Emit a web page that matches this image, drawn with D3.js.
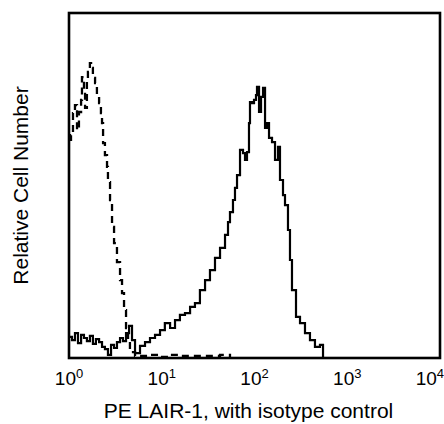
<!DOCTYPE html>
<html>
<head>
<meta charset="utf-8">
<script src="https://cdn.jsdelivr.net/npm/d3@7"></script>
<style>
  html, body { margin: 0; padding: 0; background: #fff; }
  svg { display: block; }
  text { font-family: "Liberation Sans", Arial, Helvetica, sans-serif; fill: #000; }
</style>
</head>
<body>
<svg id="chart" width="444" height="424"></svg>
<script>
// Fluorescence intensity (PE) and relative cell count, LAIR-1 stained cells
const stainedFluor = [1.00, 1.077, 1.16, 1.25, 1.35, 1.45, 1.56, 1.68, 1.81, 1.95, 2.11, 2.27, 2.44, 2.63, 2.84, 3.06, 3.29, 3.55, 3.82, 4.12, 4.44, 4.78, 5.15, 5.83, 6.60, 7.47, 8.46, 9.58, 10.8, 12.3, 13.9, 15.7, 17.8, 20.2, 22.8, 25.8, 29.3, 33.1, 37.5, 42.5, 48.1, 51.8, 54.4, 58.6, 61.6, 64.8, 69.8, 75.2, 79.0, 83.0, 87.2, 89.4, 94.0, 98.8, 103.8, 106.4, 111.9, 117.6, 123.6, 129.9, 136.5, 143.4, 154.5, 166.4, 179.2, 188.3, 202.9, 213.2, 229.6, 241.3, 253.6, 280.2, 309.5, 350.2, 396.3, 448.6, 508, 548];
const stainedCount = [6.1, 5.2, 7.2, 4.3, 6.7, 5.8, 4.9, 6.4, 4.1, 5.5, 4.6, 3.2, 2.6, 0.9, 3.8, 2.9, 4.6, 5.8, 4.9, 7.2, 9.3, 5.2, 1.4, 3.5, 4.6, 5.8, 6.7, 8.1, 10.1, 8.7, 11.0, 12.5, 13.0, 14.8, 15.9, 19.7, 22.6, 25.5, 29.0, 31.9, 35.7, 39.4, 42.3, 45.8, 49.3, 53.0, 60.3, 59.4, 57.4, 59.7, 68.1, 74.2, 73.9, 74.8, 76.2, 78.6, 71.3, 75.7, 78.3, 66.7, 68.1, 63.8, 62.6, 57.4, 61.2, 51.6, 47.2, 44.3, 37.1, 28.4, 19.7, 11.9, 10.1, 7.2, 5.2, 3.2, 3.8, 0.3];

// Isotype control
const isotypeFluor = [1.00, 1.051, 1.104, 1.16, 1.22, 1.28, 1.35, 1.38, 1.45, 1.49, 1.56, 1.60, 1.68, 1.73, 1.81, 1.91, 2.00, 2.11, 2.21, 2.27, 2.33, 2.44, 2.57, 2.63, 2.77, 2.91, 3.06, 3.29, 3.55, 3.73, 3.92, 4.12, 4.33, 4.54, 5.15, 7.47, 9.58, 12.3, 15.7, 25.8, 42.5, 54.4];
const isotypeCount = [63.2, 64.6, 71.0, 73.3, 66.1, 71.3, 74.8, 81.4, 77.7, 72.5, 80.6, 82.9, 85.5, 84.1, 81.2, 79.7, 75.7, 73.9, 71.0, 68.1, 62.3, 58.8, 55.4, 51.0, 45.8, 38.0, 33.3, 27.8, 22.6, 18.8, 13.9, 8.7, 5.2, 1.7, 0.6, 0.9, 0.3, 0.9, 0.6, 0.6, 0.9, 0];

const xTicks = [1, 10, 100, 1000, 10000];
const xTickExp = ["0", "1", "2", "3", "4"];
const xTitle = "PE LAIR-1, with isotype control";
const yTitle = "Relative Cell Number";

const W = 444, H = 424;
const margin = { top: 13, right: 4, bottom: 66, left: 69 };
const iw = W - margin.left - margin.right;
const ih = H - margin.top - margin.bottom;

const svg = d3.select("#chart");
const g = svg.append("g").attr("transform", `translate(${margin.left},${margin.top})`);

const x = d3.scaleLog().domain([1, 10000]).range([0, iw]);
const y = d3.scaleLinear().domain([0, 100]).range([ih, 0]);

g.append("clipPath").attr("id", "clip")
  .append("rect").attr("x", 0).attr("y", 0).attr("width", iw).attr("height", ih);

const line = d3.line()
  .x(d => x(d[0]))
  .y(d => y(d[1]))
  .curve(d3.curveStepAfter);

const stained = stainedFluor.map((f, i) => [f, stainedCount[i]]);
const isotype = isotypeFluor.map((f, i) => [f, isotypeCount[i]]);

const plot = g.append("g").attr("clip-path", "url(#clip)");
plot.append("path").datum(isotype)
  .attr("d", line)
  .attr("fill", "none")
  .attr("stroke", "#000")
  .attr("stroke-width", 2.3)
  .attr("stroke-dasharray", "7,5");

plot.append("path").datum(stained)
  .attr("d", line)
  .attr("fill", "none")
  .attr("stroke", "#000")
  .attr("stroke-width", 2.2);

// Frame
g.append("rect")
  .attr("x", 0).attr("y", 0).attr("width", iw).attr("height", ih)
  .attr("fill", "none").attr("stroke", "#000").attr("stroke-width", 2.6);

// X axis (labels only, no tick marks)
const xAxis = d3.axisBottom(x).tickValues(xTicks).tickSize(0).tickFormat("");
const axG = g.append("g").attr("transform", `translate(0,${ih})`).call(xAxis);
axG.select(".domain").remove();

const labels = g.append("g");
xTicks.forEach((t, i) => {
  const txt = labels.append("text")
    .attr("y", ih + 27)
    .attr("font-size", 19)
    .attr("text-anchor", "middle");
  txt.append("tspan").text("10");
  txt.append("tspan").attr("dy", -7).attr("font-size", 13).text(xTickExp[i]);
  let cx = x(t);
  const bw = txt.node().getComputedTextLength();
  if (cx + margin.left + bw / 2 > W) cx = W - margin.left - bw / 2;
  txt.attr("x", cx);
});

svg.append("text")
  .attr("x", margin.left + iw / 2 - 6)
  .attr("y", 418)
  .attr("font-size", 21)
  .attr("text-anchor", "middle")
  .text(xTitle);

svg.append("text")
  .attr("transform", `translate(28,${margin.top + ih / 2}) rotate(-90)`)
  .attr("font-size", 21)
  .attr("text-anchor", "middle")
  .text(yTitle);
</script>
</body>
</html>
